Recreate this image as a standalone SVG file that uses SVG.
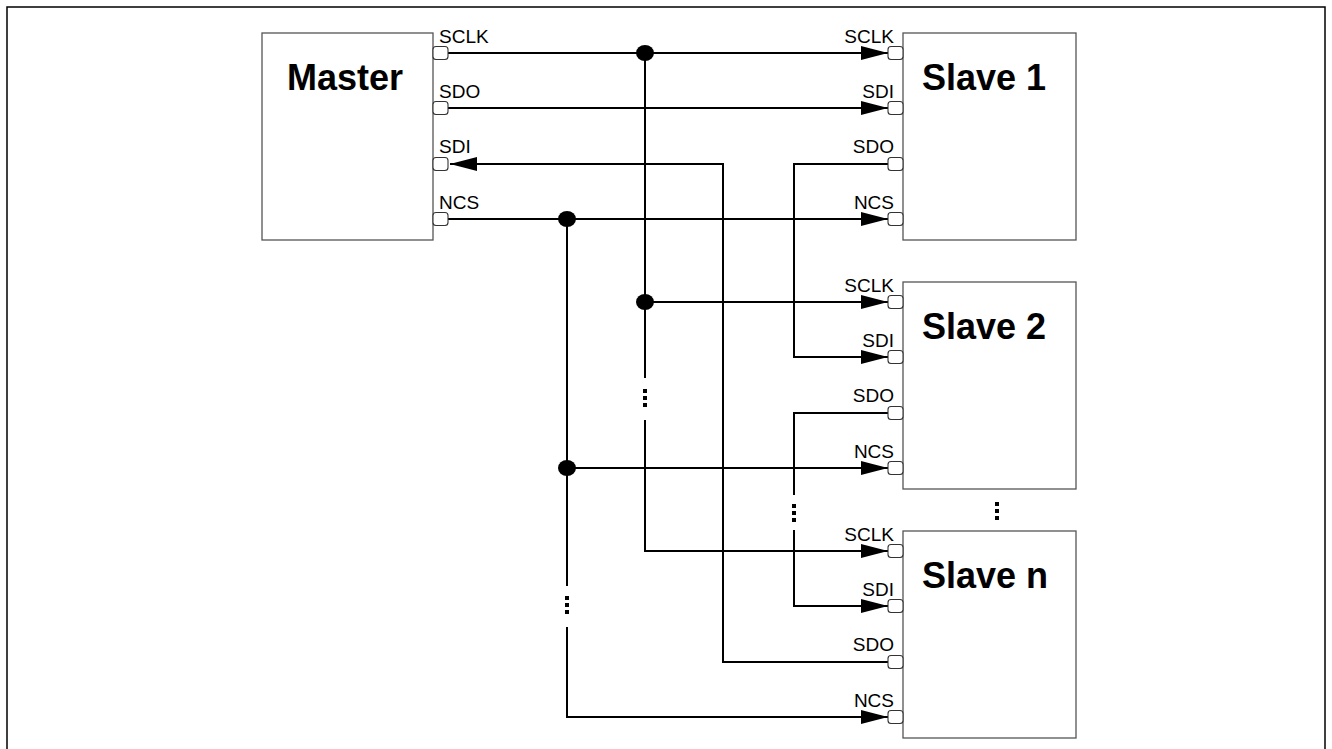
<svg xmlns="http://www.w3.org/2000/svg" width="1332" height="749" viewBox="0 0 1332 749">
<defs>
<style>
.box{fill:#fff;stroke:#555;stroke-width:1.3}
.pin{fill:#fff;stroke:#333;stroke-width:1.1}
.wire{fill:none;stroke:#000;stroke-width:2}
.arr{fill:none;stroke:#000;stroke-width:2;marker-end:url(#ah)}
.title{font-family:"Liberation Sans",Arial,sans-serif;font-weight:bold;font-size:36px;fill:#000}
.lbl{font-family:"Liberation Sans",Arial,sans-serif;font-size:19px;fill:#000}
.r{text-anchor:end}
.dot{fill:#000}
</style>
<marker id="ah" markerUnits="userSpaceOnUse" markerWidth="27" markerHeight="14" refX="27" refY="7" orient="auto" viewBox="0 0 27 14">
<path d="M0,0 L27,7 L0,14 z" fill="#000"/>
</marker>
</defs>
<rect x="0" y="0" width="1332" height="749" fill="#fff"/>
<rect x="7" y="7" width="1318" height="760" fill="none" stroke="#000" stroke-width="1.5"/>

<g id="connectors">
<path class="arr" d="M448,53 H888"/>
<path class="wire" d="M645,53 V378"/>
<path class="arr" d="M645,302 H888"/>
<path class="arr" d="M645,420 V551 H888"/>
<path class="arr" d="M448,108 H888"/>
<path class="arr" d="M888,662 H723 V164 H450"/>
<path class="arr" d="M888,164 H794 V357 H888"/>
<path class="wire" d="M888,413 H794 V495"/>
<path class="arr" d="M794,530 V606 H888"/>
<path class="arr" d="M448,219 H888"/>
<path class="wire" d="M567,219 V586"/>
<path class="arr" d="M567,468 H888"/>
<path class="arr" d="M567,627 V717 H888"/>
<ellipse class="dot" cx="645" cy="53" rx="9" ry="8"/>
<ellipse class="dot" cx="645" cy="302" rx="9" ry="8"/>
<ellipse class="dot" cx="567" cy="219" rx="9" ry="8"/>
<ellipse class="dot" cx="567" cy="468" rx="9" ry="8"/>
<g class="dot">
<rect x="643" y="389" width="4" height="4"/><rect x="643" y="396" width="4" height="4"/><rect x="643" y="403" width="4" height="4"/>
<rect x="792" y="504" width="4" height="4"/><rect x="792" y="511" width="4" height="4"/><rect x="792" y="518" width="4" height="4"/>
<rect x="565" y="596" width="4" height="4"/><rect x="565" y="603" width="4" height="4"/><rect x="565" y="610" width="4" height="4"/>
<rect x="995" y="502" width="4" height="4"/><rect x="995" y="509" width="4" height="4"/><rect x="995" y="516" width="4" height="4"/>
</g>
</g>

<g id="master">
<rect class="box" x="262" y="33" width="171" height="207"/>
<text class="title" x="287" y="90">Master</text>
<rect class="pin" x="433" y="46.5" width="15" height="13" rx="3"/>
<rect class="pin" x="433" y="101.5" width="15" height="13" rx="3"/>
<rect class="pin" x="433" y="157.5" width="15" height="13" rx="3"/>
<rect class="pin" x="433" y="212.5" width="15" height="13" rx="3"/>
<text class="lbl" x="439" y="43">SCLK</text>
<text class="lbl" x="439" y="98">SDO</text>
<text class="lbl" x="439" y="153">SDI</text>
<text class="lbl" x="439" y="209">NCS</text>
</g>

<g id="slave1">
<rect class="box" x="903" y="33" width="173" height="207"/>
<text class="title" x="922" y="90">Slave 1</text>
<rect class="pin" x="888" y="46.5" width="15" height="13" rx="3"/>
<rect class="pin" x="888" y="101.5" width="15" height="13" rx="3"/>
<rect class="pin" x="888" y="157.5" width="15" height="13" rx="3"/>
<rect class="pin" x="888" y="212.5" width="15" height="13" rx="3"/>
<text class="lbl r" x="894" y="43">SCLK</text>
<text class="lbl r" x="894" y="98">SDI</text>
<text class="lbl r" x="894" y="153">SDO</text>
<text class="lbl r" x="894" y="209">NCS</text>
</g>

<g id="slave2">
<rect class="box" x="903" y="282" width="173" height="207"/>
<text class="title" x="922" y="339">Slave 2</text>
<rect class="pin" x="888" y="295.5" width="15" height="13" rx="3"/>
<rect class="pin" x="888" y="350.5" width="15" height="13" rx="3"/>
<rect class="pin" x="888" y="406.5" width="15" height="13" rx="3"/>
<rect class="pin" x="888" y="461.5" width="15" height="13" rx="3"/>
<text class="lbl r" x="894" y="292">SCLK</text>
<text class="lbl r" x="894" y="347">SDI</text>
<text class="lbl r" x="894" y="402">SDO</text>
<text class="lbl r" x="894" y="458">NCS</text>
</g>

<g id="slaven">
<rect class="box" x="903" y="531" width="173" height="207"/>
<text class="title" x="922" y="588">Slave n</text>
<rect class="pin" x="888" y="544.5" width="15" height="13" rx="3"/>
<rect class="pin" x="888" y="599.5" width="15" height="13" rx="3"/>
<rect class="pin" x="888" y="655.5" width="15" height="13" rx="3"/>
<rect class="pin" x="888" y="710.5" width="15" height="13" rx="3"/>
<text class="lbl r" x="894" y="541">SCLK</text>
<text class="lbl r" x="894" y="596">SDI</text>
<text class="lbl r" x="894" y="651">SDO</text>
<text class="lbl r" x="894" y="707">NCS</text>
</g>
</svg>
